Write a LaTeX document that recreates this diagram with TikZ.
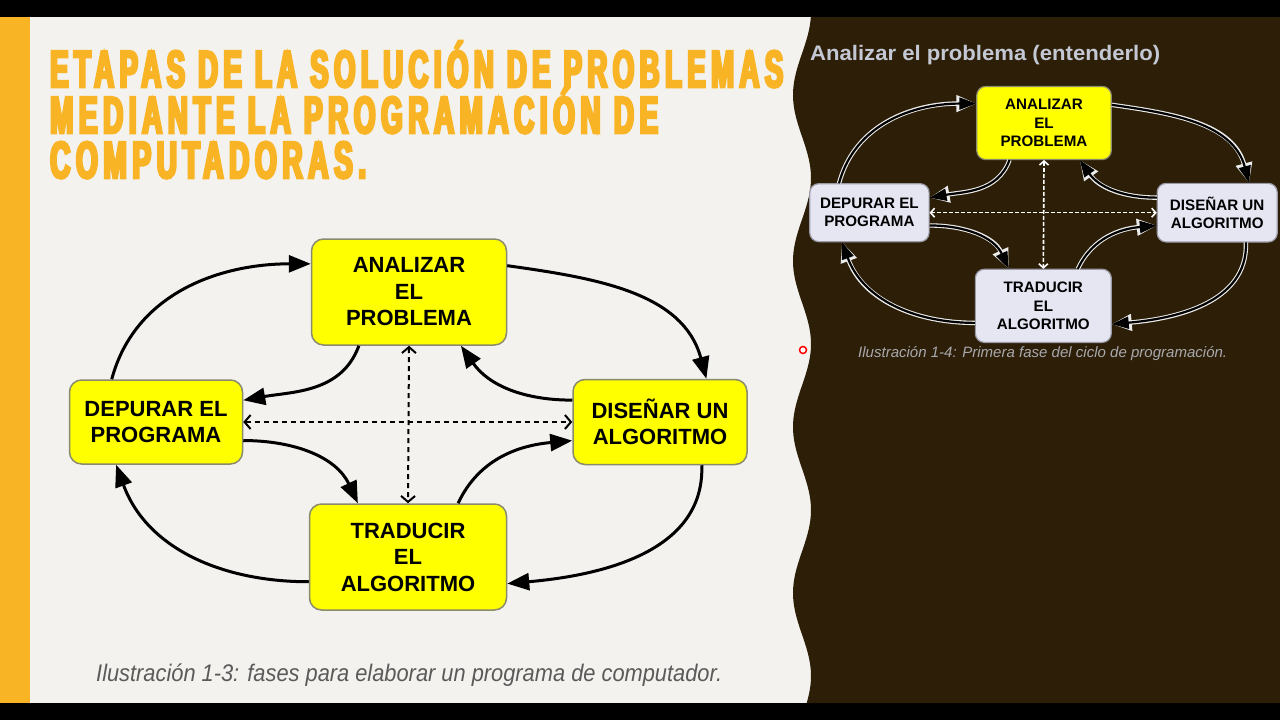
\documentclass[tikz,border=0pt]{standalone}
\usepackage{fontspec}
\setmainfont{Liberation Sans}
\newfontfamily\titlefont[FakeStretch=0.5,LetterSpace=10,FakeBold=5]{Liberation Sans Bold}
\usepackage{graphicx}
\usetikzlibrary{arrows.meta}
\definecolor{orangeT}{HTML}{F8B425}
\definecolor{panel}{HTML}{F3F2EE}
\definecolor{darkbg}{HTML}{2D1F07}
\definecolor{boxy}{HTML}{FFFF00}
\definecolor{boxline}{HTML}{8A8A6E}
\definecolor{lav}{HTML}{E6E6F3}
\definecolor{lavline}{HTML}{9A9AA6}
\definecolor{capgray}{HTML}{5A5A5A}
\definecolor{rtitle}{HTML}{C4C8D4}
\definecolor{rcap}{HTML}{A8A8AE}

\newcommand\cyclediagram[1]{%
  \node[abx] (#1ana) at (409,292) {ANALIZAR\\EL\\PROBLEMA};
  \node[obx, minimum width=173pt, minimum height=84pt] (#1dep) at (156,422) {DEPURAR EL\\PROGRAMA};
  \node[obx, minimum width=174pt, minimum height=85pt] (#1dis) at (660,422) {DISEÑAR UN\\ALGORITMO};
  \node[obx, minimum width=197pt, minimum height=106pt] (#1tra) at (408,557) {TRADUCIR\\EL\\ALGORITMO};
  \draw[sarr] (#1dep.136) to[out=75,in=180] (#1ana.164);
  \draw[sarr] (#1ana.15) to[out=-8,in=105] (#1dis.43);
  \draw[sarr] (#1dis.-46) to[out=-88,in=5] (#1tra.-15);
  \draw[sarr] (#1tra.194) to[out=180,in=-70] (#1dep.227);
  \draw[sarr] (#1ana.227) to[out=-110,in=10] (#1dep.14);
  \draw[sarr] (#1dis.166) to[out=180,in=-55] (#1ana.314);
  \draw[sarr] (#1dep.-12) to[out=0,in=115] (#1tra.133);
  \draw[sarr] (#1tra.47) to[out=65,in=185] (#1dis.192);
  \draw[darr] (#1ana.south) -- (#1tra.north);
  \draw[darr] (#1dep.east) -- (#1dis.west);
}

\begin{document}
\begin{tikzpicture}[x=1pt,y=-1pt,
  geo/.style={rounded corners=12pt, draw=boxline, line width=1.5pt, align=center,
    inner sep=0pt, font=\fontsize{22}{26.5}\selectfont\bfseries},
  abx/.style={geo, fill=boxy, minimum width=195pt, minimum height=106pt},
  obx/.style={geo, fill=boxy},
  sarr/.style={line width=3pt, -{Triangle[length=22pt,width=17pt]}},
  darr/.style={line width=2pt, dash pattern=on 5pt off 4pt,
    {Straight Barb[length=6pt,width=14pt]}-{Straight Barb[length=6pt,width=14pt]}},
  ttl/.style={anchor=base west, inner sep=0pt, text=orangeT}]
\useasboundingbox (0,0) rectangle (1280,720);
\fill[black] (0,0) rectangle (1280,720);
\fill[panel] (30,17) rectangle (830,703);
\fill[orangeT] (0,17) rectangle (30,703);
\fill[darkbg] plot[domain=17:703, samples=160] ({802+9*cos((\x-12)*2.16867)},{\x}) -- (1280,703) -- (1280,17) -- cycle;

% title
\node[ttl] (t1) at (50,87) {\resizebox{733pt}{\height}{\fontsize{52}{52}\selectfont\titlefont ETAPAS DE LA SOLUCIÓN DE PROBLEMAS}};
\node[ttl] (t2) at (50,133) {\resizebox{608pt}{\height}{\fontsize{52}{52}\selectfont\titlefont MEDIANTE LA PROGRAMACIÓN DE}};
\node[ttl] (t3) at (50,178) {\resizebox{316pt}{\height}{\fontsize{52}{52}\selectfont\titlefont COMPUTADORAS.}};

% left diagram
\cyclediagram{L}
\node[anchor=base west, inner sep=0pt, text=capgray] (cap1) at (96,681)
  {\resizebox{626pt}{\height}{\fontsize{24}{24}\selectfont\itshape Ilustración 1-3: fases para elaborar un programa de computador.}};

% right panel
\node[anchor=base west, inner sep=0pt, text=rtitle] (rt) at (810,60)
  {\resizebox{350pt}{\height}{\fontsize{21}{21}\selectfont\bfseries Analizar el problema (entenderlo)}};
\begin{scope}[shift={(761.8,-78.5)}, scale=0.69, transform shape,
  obx/.style={geo, fill=lav, draw=lavline, rounded corners=9pt, line width=1.2pt},
  abx/.style={geo, fill=boxy, draw=boxline, rounded corners=9pt, line width=1.2pt, minimum width=195pt, minimum height=106pt},
  sarr/.style={line width=2.2pt, -{Triangle[length=17pt,width=12pt]},
    preaction={draw=white!85!gray, line width=4.4pt, -{Triangle[length=20pt,width=16pt]}}},
  darr/.style={draw=white, line width=1.6pt, dash pattern=on 4pt off 2pt,
    {Straight Barb[length=4pt,width=9pt]}-{Straight Barb[length=4pt,width=9pt]}}]
\cyclediagram{R}
\end{scope}
\node[anchor=base west, inner sep=0pt, text=rcap] (cap2) at (858,357)
  {\resizebox{369pt}{\height}{\fontsize{15}{15}\selectfont\itshape Ilustración 1-4: Primera fase del ciclo de programación.}};
\draw[red, line width=1.5pt, fill=white] (803,350) circle (3.5pt);
\end{tikzpicture}
\end{document}
